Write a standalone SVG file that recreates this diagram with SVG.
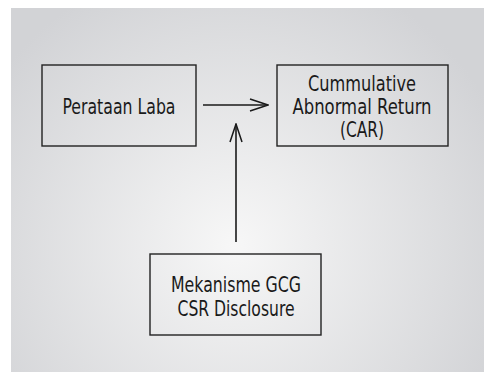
<svg xmlns="http://www.w3.org/2000/svg" width="484" height="372" viewBox="0 0 484 372">
<defs>
<radialGradient id="bg" gradientUnits="userSpaceOnUse" cx="235" cy="245" r="290">
<stop offset="0" stop-color="#f7f7f7"/>
<stop offset="1" stop-color="#d2d3d6"/>
</radialGradient>
<marker id="open" viewBox="0 0 20 14" refX="19" refY="7" markerWidth="20" markerHeight="14" markerUnits="userSpaceOnUse" orient="auto">
<path d="M1,1 L19,7 L1,13" fill="none" stroke="#1a1a1a" stroke-width="1.5"/>
</marker>
<style>
.box{fill:none;stroke:#222;stroke-width:1.4}
.lbl{font-family:"DejaVu Sans Condensed","DejaVu Sans",sans-serif;font-stretch:condensed;font-size:21.5px;fill:#1a1a1a;text-anchor:middle}
.edge{stroke:#1a1a1a;stroke-width:1.6;fill:none;marker-end:url(#open)}
</style>
</defs>
<rect width="484" height="372" fill="#fff"/>
<rect x="11" y="8" width="473" height="364" fill="url(#bg)"/>
<g id="perataan">
<rect class="box" x="42" y="65" width="154" height="81"/>
<text class="lbl" x="119" y="114" textLength="113" lengthAdjust="spacingAndGlyphs">Perataan Laba</text>
</g>
<g id="car">
<rect class="box" x="277" y="65" width="171" height="81"/>
<text class="lbl" x="362" y="91" textLength="108" lengthAdjust="spacingAndGlyphs">Cummulative</text>
<text class="lbl" x="362" y="114" textLength="139" lengthAdjust="spacingAndGlyphs">Abnormal Return</text>
<text class="lbl" x="362" y="137" textLength="44" lengthAdjust="spacingAndGlyphs">(CAR)</text>
</g>
<g id="gcg">
<rect class="box" x="150" y="254" width="171" height="81"/>
<text class="lbl" x="236" y="292" textLength="130" lengthAdjust="spacingAndGlyphs">Mekanisme GCG</text>
<text class="lbl" x="236" y="316" textLength="117" lengthAdjust="spacingAndGlyphs">CSR Disclosure</text>
</g>
<g id="connectors">
<line class="edge" x1="203" y1="105" x2="268" y2="105"/>
<line class="edge" x1="236" y1="242" x2="236" y2="124"/>
</g>
</svg>
